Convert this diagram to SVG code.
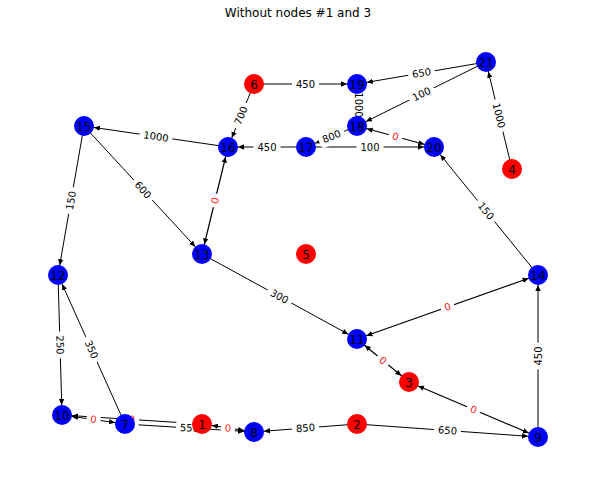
<svg xmlns="http://www.w3.org/2000/svg" width="596" height="484" viewBox="0 0 596 484">
<defs>
<marker id="ah" markerUnits="userSpaceOnUse" markerWidth="20" markerHeight="8" refX="16" refY="4" orient="auto-start-reverse">
<path d="M0,1.3 L6,4 L0,6.7 z" fill="#000"/>
</marker>
<style>
.e{stroke:#000;stroke-width:1;fill:none;marker-end:url(#ah)}
.b{marker-start:url(#ah);stroke-width:1.2}
.n{stroke:none}
.blue{fill:#0000ff}
.red{fill:#ff0000}
.nl{font-family:"DejaVu Sans",sans-serif;font-size:12px;fill:#000;text-anchor:middle}
.lb rect{fill:#fff;stroke:none}
.lb text{font-family:"DejaVu Sans",sans-serif;font-size:10px;fill:#000;text-anchor:middle}
.lb.z text{fill:#ff2020}
.title{font-family:"DejaVu Sans",sans-serif;font-size:12px;fill:#000;text-anchor:middle}
</style>
</defs>
<rect width="596" height="484" fill="#fff"/>
<text class="title" x="298" y="17">Without nodes #1 and 3</text>
<g id="edges">
<line class="e" x1="254" y1="84" x2="357" y2="84"/>
<line class="e" x1="486" y1="62" x2="357" y2="84"/>
<line class="e" x1="486" y1="62" x2="357" y2="126"/>
<line x1="357" y1="84" x2="357" y2="126" stroke="#000" stroke-width="1"/>
<line class="e b" x1="357" y1="126" x2="434" y2="147"/>
<line class="e" x1="357" y1="126" x2="306" y2="147"/>
<line class="e" x1="306" y1="147" x2="228" y2="147"/>
<line class="e" x1="306" y1="147" x2="434" y2="147"/>
<line class="e" x1="254" y1="84" x2="228" y2="147"/>
<line class="e" x1="228" y1="147" x2="84" y2="126"/>
<line class="e b" x1="228" y1="147" x2="202" y2="254"/>
<line class="e" x1="84" y1="126" x2="202" y2="254"/>
<line class="e" x1="84" y1="126" x2="58" y2="275"/>
<line class="e" x1="58" y1="275" x2="62" y2="415"/>
<line class="e" x1="125" y1="424" x2="58" y2="275"/>
<line class="e b" x1="62" y1="415" x2="125" y2="424"/>
<line class="e" x1="202" y1="424" x2="62" y2="415"/>
<line class="e" x1="125" y1="424" x2="254" y2="432"/>
<line class="e b" x1="202" y1="424" x2="254" y2="432"/>
<line class="e" x1="357" y1="424" x2="254" y2="432"/>
<line class="e" x1="357" y1="424" x2="538" y2="437"/>
<line class="e" x1="202" y1="254" x2="357" y2="339"/>
<line class="e b" x1="538" y1="275" x2="357" y2="339"/>
<line class="e b" x1="357" y1="339" x2="409" y2="382"/>
<line class="e b" x1="409" y1="382" x2="538" y2="437"/>
<line class="e" x1="538" y1="437" x2="538" y2="275"/>
<line class="e" x1="538" y1="275" x2="434" y2="147"/>
<line class="e" x1="512" y1="169" x2="486" y2="62"/>
</g>
<g id="edge-labels">
<g class="lb" transform="translate(305.5,84)"><rect x="-13.5" y="-8" width="27" height="16" rx="4"/><text dy="0.35em">450</text></g>
<g class="lb" transform="translate(421.5,73) rotate(-9.7)"><rect x="-13.5" y="-8" width="27" height="16" rx="4"/><text dy="0.35em">650</text></g>
<g class="lb" transform="translate(421.5,94) rotate(-26.4)"><rect x="-13.5" y="-8" width="27" height="16" rx="4"/><text dy="0.35em">100</text></g>
<g class="lb" transform="translate(358,105) rotate(90)"><rect x="-16.5" y="-7" width="33" height="14" rx="4"/><text dy="0.35em">1000</text></g>
<g class="lb z" transform="translate(395.5,136.5) rotate(15.3)"><rect x="-7" y="-8" width="14" height="16" rx="4"/><text dy="0.35em">0</text></g>
<g class="lb" transform="translate(331.5,136.5) rotate(-22.4)"><rect x="-13.5" y="-8" width="27" height="16" rx="4"/><text dy="0.35em">800</text></g>
<g class="lb" transform="translate(267,147)"><rect x="-13.5" y="-8" width="27" height="16" rx="4"/><text dy="0.35em">450</text></g>
<g class="lb" transform="translate(370,147)"><rect x="-13.5" y="-8" width="27" height="16" rx="4"/><text dy="0.35em">100</text></g>
<g class="lb" transform="translate(241,115.5) rotate(-67.6)"><rect x="-13.5" y="-8" width="27" height="16" rx="4"/><text dy="0.35em">700</text></g>
<g class="lb" transform="translate(156,136.5) rotate(8.3)"><rect x="-16.5" y="-8" width="33" height="16" rx="4"/><text dy="0.35em">1000</text></g>
<g class="lb z" transform="translate(215,200.5) rotate(-76.3)"><rect x="-7" y="-8" width="14" height="16" rx="4"/><text dy="0.35em">0</text></g>
<g class="lb" transform="translate(143,190) rotate(47.3)"><rect x="-13.5" y="-8" width="27" height="16" rx="4"/><text dy="0.35em">600</text></g>
<g class="lb" transform="translate(71,200.5) rotate(-80.1)"><rect x="-13.5" y="-8" width="27" height="16" rx="4"/><text dy="0.35em">150</text></g>
<g class="lb" transform="translate(60,345) rotate(88.4)"><rect x="-13.5" y="-8" width="27" height="16" rx="4"/><text dy="0.35em">250</text></g>
<g class="lb" transform="translate(91.5,349.5) rotate(65.8)"><rect x="-13.5" y="-8" width="27" height="16" rx="4"/><text dy="0.35em">350</text></g>
<g class="lb z" transform="translate(93.5,419.5) rotate(8.1)"><rect x="-7" y="-8" width="14" height="16" rx="4"/><text dy="0.35em">0</text></g>
<g class="lb z" transform="translate(132,419.5) rotate(3.7)"><rect x="-7" y="-8" width="14" height="16" rx="4"/><text dy="0.35em">0</text></g>
<g class="lb" transform="translate(189.5,428) rotate(3.5)"><rect x="-13.5" y="-8" width="27" height="16" rx="4"/><text dy="0.35em">550</text></g>
<g class="lb z" transform="translate(228,428) rotate(8.7)"><rect x="-7" y="-8" width="14" height="16" rx="4"/><text dy="0.35em">0</text></g>
<g class="lb" transform="translate(305.5,428) rotate(-4.4)"><rect x="-13.5" y="-8" width="27" height="16" rx="4"/><text dy="0.35em">850</text></g>
<g class="lb" transform="translate(447.5,430.5) rotate(4.1)"><rect x="-13.5" y="-8" width="27" height="16" rx="4"/><text dy="0.35em">650</text></g>
<g class="lb" transform="translate(279.5,296.5) rotate(28.7)"><rect x="-13.5" y="-8" width="27" height="16" rx="4"/><text dy="0.35em">300</text></g>
<g class="lb z" transform="translate(447.5,307) rotate(-19.5)"><rect x="-7" y="-8" width="14" height="16" rx="4"/><text dy="0.35em">0</text></g>
<g class="lb z" transform="translate(383,360.5) rotate(39.6)"><rect x="-7" y="-8" width="14" height="16" rx="4"/><text dy="0.35em">0</text></g>
<g class="lb z" transform="translate(473.5,409.5) rotate(23.1)"><rect x="-7" y="-8" width="14" height="16" rx="4"/><text dy="0.35em">0</text></g>
<g class="lb" transform="translate(538,356) rotate(-90)"><rect x="-13.5" y="-8" width="27" height="16" rx="4"/><text dy="0.35em">450</text></g>
<g class="lb" transform="translate(486,211) rotate(50.9)"><rect x="-13.5" y="-8" width="27" height="16" rx="4"/><text dy="0.35em">150</text></g>
<g class="lb" transform="translate(499,115.5) rotate(76.3)"><rect x="-16.5" y="-8" width="33" height="16" rx="4"/><text dy="0.35em">1000</text></g>
</g>
<g id="node-1"><circle class="n red" cx="202" cy="424" r="10"/><text class="nl" x="202" y="428.5">1</text></g>
<g id="node-2"><circle class="n red" cx="357" cy="424" r="10"/><text class="nl" x="357" y="428.5">2</text></g>
<g id="node-3"><circle class="n red" cx="409" cy="382" r="10"/><text class="nl" x="409" y="386.5">3</text></g>
<g id="node-4"><circle class="n red" cx="512" cy="169" r="10"/><text class="nl" x="512" y="173.5">4</text></g>
<g id="node-5"><circle class="n red" cx="306" cy="254" r="10"/><text class="nl" x="306" y="258.5">5</text></g>
<g id="node-6"><circle class="n red" cx="254" cy="84" r="10"/><text class="nl" x="254" y="88.5">6</text></g>
<g id="node-7"><circle class="n blue" cx="125" cy="424" r="10"/><text class="nl" x="125" y="428.5">7</text></g>
<g id="node-8"><circle class="n blue" cx="254" cy="432" r="10"/><text class="nl" x="254" y="436.5">8</text></g>
<g id="node-9"><circle class="n blue" cx="538" cy="437" r="10"/><text class="nl" x="538" y="441.5">9</text></g>
<g id="node-10"><circle class="n blue" cx="62" cy="415" r="10"/><text class="nl" x="62" y="419.5">10</text></g>
<g id="node-11"><circle class="n blue" cx="357" cy="339" r="10"/><text class="nl" x="357" y="343.5">11</text></g>
<g id="node-12"><circle class="n blue" cx="58" cy="275" r="10"/><text class="nl" x="58" y="279.5">12</text></g>
<g id="node-13"><circle class="n blue" cx="202" cy="254" r="10"/><text class="nl" x="202" y="258.5">13</text></g>
<g id="node-14"><circle class="n blue" cx="538" cy="275" r="10"/><text class="nl" x="538" y="279.5">14</text></g>
<g id="node-15"><circle class="n blue" cx="84" cy="126" r="10"/><text class="nl" x="84" y="130.5">15</text></g>
<g id="node-16"><circle class="n blue" cx="228" cy="147" r="10"/><text class="nl" x="228" y="151.5">16</text></g>
<g id="node-17"><circle class="n blue" cx="306" cy="147" r="10"/><text class="nl" x="306" y="151.5">17</text></g>
<g id="node-18"><circle class="n blue" cx="357" cy="126" r="10"/><text class="nl" x="357" y="130.5">18</text></g>
<g id="node-19"><circle class="n blue" cx="357" cy="84" r="10"/><text class="nl" x="357" y="88.5">19</text></g>
<g id="node-20"><circle class="n blue" cx="434" cy="147" r="10"/><text class="nl" x="434" y="151.5">20</text></g>
<g id="node-21"><circle class="n blue" cx="486" cy="62" r="10"/><text class="nl" x="486" y="66.5">21</text></g>
</svg>
